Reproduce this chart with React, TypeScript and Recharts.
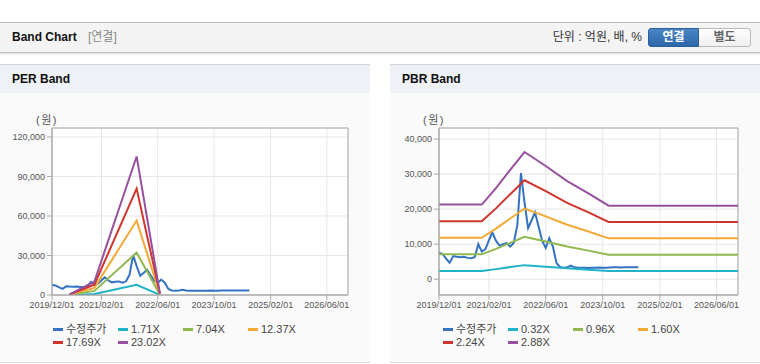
import React from 'react';
import { LineChart, Line, XAxis, YAxis, CartesianGrid, ReferenceArea } from 'recharts';

const FONT = "'Liberation Sans', 'Noto Sans CJK KR', sans-serif";

// 수정주가 (월별)
const priceDates = [
  '2019/12/01', '2020/01/01', '2020/02/01', '2020/03/01', '2020/04/01', '2020/05/01', '2020/06/01',
  '2020/07/01', '2020/08/01', '2020/09/01', '2020/10/01', '2020/11/01', '2020/12/01', '2021/01/01',
  '2021/02/01', '2021/03/01', '2021/04/01', '2021/05/01', '2021/06/01', '2021/07/01', '2021/08/01',
  '2021/09/01', '2021/10/01', '2021/11/01', '2021/12/01', '2022/01/01', '2022/02/01', '2022/03/01',
  '2022/04/01', '2022/05/01', '2022/06/01', '2022/07/01', '2022/08/01', '2022/09/01', '2022/10/01',
  '2022/11/01', '2022/12/01', '2023/01/01', '2023/02/01', '2023/03/01', '2023/04/01', '2023/05/01',
  '2023/06/01', '2023/07/01', '2023/08/01', '2023/09/01', '2023/10/01', '2023/11/01', '2023/12/01',
  '2024/01/01', '2024/02/01', '2024/03/01', '2024/04/01', '2024/05/01', '2024/06/01', '2024/07/01',
  '2024/08/01',
];
const priceValues = [
  7600, 7200, 5800, 4700, 6600, 6400, 6300, 6400, 6100, 6000, 6300, 10000, 7900, 8600,
  11200, 13400, 11000, 9600, 10000, 10300, 9300, 10400, 15500, 30300, 22000, 14600, 16900, 19100,
  15000, 11000, 8900, 11700, 9300, 4600, 3500, 3300, 3400, 3900, 3400, 3300, 3300, 3250,
  3200, 3300, 3300, 3350, 3300, 3300, 3350, 3400, 3400, 3350, 3400, 3400, 3400, 3400, 3400,
];

// PER band
const perBandDates = ['2020/05/01', '2020/12/01', '2021/12/01', '2022/06/20'];
const per171 = [40, 750, 7800, 100];
const per704 = [150, 3100, 32200, 400];
const per1237 = [270, 5400, 56500, 700];
const per1769 = [380, 7800, 80800, 1000];
const per2302 = [500, 10100, 105200, 1300];

// PBR band
const pbrBandDates = [
  '2019/12/01', '2020/12/01', '2021/04/01', '2021/08/01', '2021/12/01',
  '2022/06/01', '2022/12/01', '2023/06/01', '2023/11/20', '2026/12/01',
];
const pbr032 = [2370, 2370, 2890, 3470, 4030, 3590, 3110, 2720, 2330, 2330];
const pbr096 = [7100, 7100, 8670, 10400, 12100, 10770, 9330, 8170, 7000, 7000];
const pbr160 = [11830, 11830, 14440, 17330, 20170, 17940, 15560, 13610, 11670, 11670];
const pbr224 = [16570, 16570, 20220, 24270, 28230, 25120, 21780, 19060, 16330, 16330];
const pbr288 = [21300, 21300, 26000, 31200, 36300, 32300, 28000, 24500, 21000, 21000];

const xTickDates = ['2019/12/01', '2021/02/01', '2022/06/01', '2023/10/01', '2025/02/01', '2026/06/01'];
const perTicks = [0, 30000, 60000, 90000, 120000];
const pbrTicks = [0, 10000, 20000, 30000, 40000];

const COLORS = ['#3472c4', '#1fb3c8', '#8fb84e', '#f3a935', '#d1342c', '#97509e'];

const toTime = (s: string) => {
  const [y, m, d] = s.split('/').map(Number);
  return Date.UTC(y, m - 1, d);
};
const pad = (n: number) => String(n).padStart(2, '0');
const fmtDate = (t: number) => {
  const d = new Date(t);
  return `${d.getUTCFullYear()}/${pad(d.getUTCMonth() + 1)}/${pad(d.getUTCDate())}`;
};
const zip = (dates: string[], values: number[]) => dates.map((d, i) => ({ t: toTime(d), v: values[i] }));

const xDomain = [toTime('2019/12/01'), toTime('2026/12/01')];
const xTicks = xTickDates.map(toTime);

type Series = { name: string; data: { t: number; v: number }[] };

const perSeries: Series[] = [
  { name: '수정주가', data: zip(priceDates, priceValues) },
  { name: '1.71X', data: zip(perBandDates, per171) },
  { name: '7.04X', data: zip(perBandDates, per704) },
  { name: '12.37X', data: zip(perBandDates, per1237) },
  { name: '17.69X', data: zip(perBandDates, per1769) },
  { name: '23.02X', data: zip(perBandDates, per2302) },
];

const pbrSeries: Series[] = [
  { name: '수정주가', data: zip(priceDates, priceValues) },
  { name: '0.32X', data: zip(pbrBandDates, pbr032) },
  { name: '0.96X', data: zip(pbrBandDates, pbr096) },
  { name: '1.60X', data: zip(pbrBandDates, pbr160) },
  { name: '2.24X', data: zip(pbrBandDates, pbr224) },
  { name: '2.88X', data: zip(pbrBandDates, pbr288) },
];

const tickStyle = { fill: '#555', fontSize: 9, fontFamily: FONT };

const BandPanel = ({ left, title, series, yDomain, yTicks, yWidth }: {
  left: number; title: string; series: Series[]; yDomain: number[]; yTicks: number[]; yWidth: number;
}) => (
  <div style={{
    position: 'absolute', left, top: 64, width: 370, height: 297,
    borderTop: '1px solid #d6d6d6', borderBottom: '1px solid #dedede', background: '#fafafa',
  }}>
    <div style={{
      height: 28, lineHeight: '28px', background: '#eef1f6', paddingLeft: 12,
      fontWeight: 'bold', fontSize: 12, color: '#111',
    }}>{title}</div>
    <div style={{ position: 'absolute', left: yWidth - 11, top: 46, fontSize: 11, color: '#555', letterSpacing: 1.5 }}>(원)</div>
    <div style={{ position: 'absolute', left: 0, top: 28 }}>
      <LineChart width={370} height={227} margin={{ top: 35, right: 22, bottom: 0, left: 5 }}>
        <CartesianGrid stroke="#e6e6e6" fill="#fff" />
        <XAxis
          dataKey="t" type="number" domain={xDomain} ticks={xTicks} tickFormatter={fmtDate}
          allowDataOverflow interval={0} height={25}
          stroke="#aaa" tickSize={5} tick={tickStyle}
        />
        <YAxis
          type="number" domain={yDomain} ticks={yTicks} allowDataOverflow width={yWidth}
          tickFormatter={(v: number) => v.toLocaleString('en-US')}
          stroke="#aaa" tickSize={5} tick={tickStyle}
        />
        <ReferenceArea x1={xDomain[0]} x2={xDomain[1]} y1={yDomain[0]} y2={yDomain[1]}
          fill="none" fillOpacity={0} stroke="#aaa" strokeWidth={1} />
        {series.map((s, i) => (
          <Line key={s.name} data={s.data} dataKey="v" name={s.name} type="linear"
            stroke={COLORS[i]} strokeWidth={2} dot={false} activeDot={false} isAnimationActive={false} />
        ))}
      </LineChart>
    </div>
    <div style={{
      position: 'absolute', left: 53, top: 258, width: 270, display: 'flex', flexWrap: 'wrap',
      fontSize: 11, color: '#444', lineHeight: '13px',
    }}>
      {series.map((s, i) => (
        <div key={s.name} style={{ width: 65, display: 'flex', alignItems: 'center' }}>
          <span style={{ display: 'inline-block', width: 10, height: 3, background: COLORS[i], marginRight: 3 }} />
          <span>{s.name}</span>
        </div>
      ))}
    </div>
  </div>
);

export default function App() {
  return (
    <div style={{ position: 'absolute', left: 0, top: 0, width: 760, height: 364, background: '#fff', overflow: 'hidden', fontFamily: FONT }}>
      <div style={{
        position: 'absolute', left: 0, top: 22, width: 760, height: 29,
        background: '#f4f4f4', borderTop: '1px solid #b6b6b6', borderBottom: '1px solid #c4c4c4',
        boxShadow: '0 1px 2px rgba(0,0,0,0.15)',
      }}>
        <span style={{ position: 'absolute', left: 12, top: 0, lineHeight: '29px', fontWeight: 'bold', fontSize: 12, color: '#111' }}>
          Band Chart
        </span>
        <span style={{ position: 'absolute', left: 88, top: 0, lineHeight: '29px', fontSize: 12, color: '#888' }}>
          [연결]
        </span>
        <span style={{ position: 'absolute', right: 118, top: 0, lineHeight: '29px', fontSize: 12, color: '#333' }}>
          단위 : 억원, 배, %
        </span>
        <div style={{
          position: 'absolute', left: 648, top: 5, width: 51, height: 19, boxSizing: 'border-box',
          background: 'linear-gradient(#4a86c6, #2c68aa)', border: '1px solid #2a5f9e', borderRadius: '3px 0 0 3px',
          color: '#fff', fontWeight: 'bold', fontSize: 12, textAlign: 'center', lineHeight: '17px',
        }}>연결</div>
        <div style={{
          position: 'absolute', left: 699, top: 5, width: 52, height: 19, boxSizing: 'border-box',
          background: 'linear-gradient(#ffffff, #f0f0f0)', border: '1px solid #bbb', borderLeft: 'none', borderRadius: '0 3px 3px 0',
          color: '#666', fontWeight: 'bold', fontSize: 12, textAlign: 'center', lineHeight: '17px',
        }}>별도</div>
      </div>
      <BandPanel left={0} title="PER Band" series={perSeries} yDomain={[0, 126800]} yTicks={perTicks} yWidth={47} />
      <BandPanel left={390} title="PBR Band" series={pbrSeries} yDomain={[-4490, 43150]} yTicks={pbrTicks} yWidth={44} />
    </div>
  );
}
